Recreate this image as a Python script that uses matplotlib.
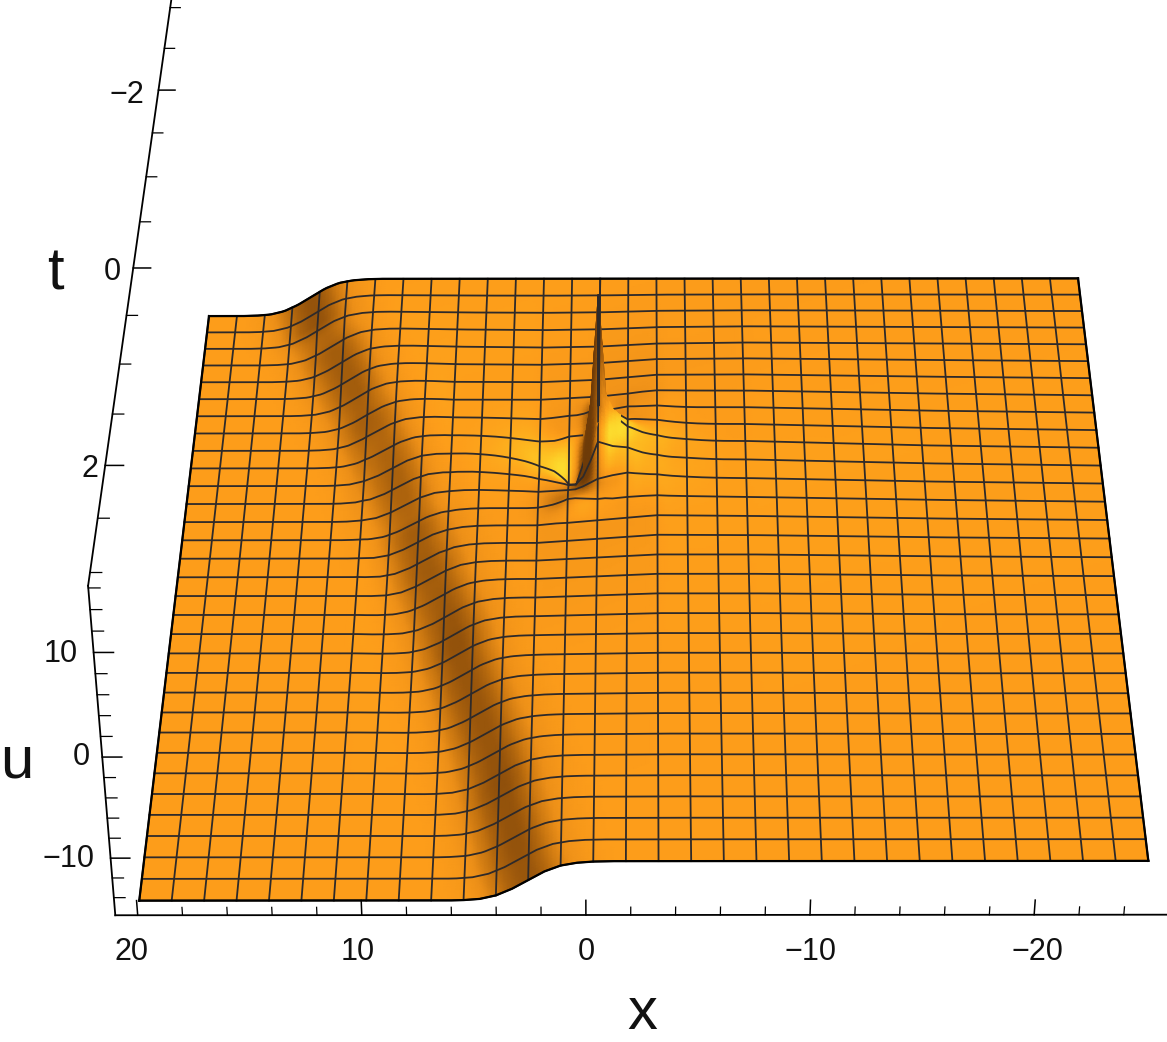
"""
Surface u(x, t): a kink crossing a flat sheet with a sharp lump next to it,
seen from above in perspective.
"""
import numpy as np
import matplotlib
matplotlib.use('Agg')
import matplotlib.pyplot as plt
from matplotlib.colors import LinearSegmentedColormap

plt.rcParams['font.family'] = ['Liberation Sans', 'DejaVu Sans']

# ---------- data ----------
x_range = [20, -25]
t_range = [-3, 3]
n_cells = 31
u_low = -15.7
u_step = 4.0
px_per_u = 9.5

# kink centre per mesh row, in mesh columns
kink_col = [3.7, 3.9, 4.1, 4.6, 4.95, 5.3, 5.65, 6.05, 6.35, 6.7, 7.0, 7.25, 7.5, 7.8, 8.0, 8.25,
            8.5, 8.8, 9.1, 9.35, 9.55, 9.8, 10.05, 10.3, 10.55, 10.8, 11.0, 11.15, 11.35, 11.55, 11.75, 12.0]
# rise across the kink against distance from its centre, in mesh columns
kink_offset = [-2.5, -2, -1.5, -1, -0.5, 0, 0.5, 1, 1.5, 2, 2.5]
kink_rise = [0, 0.01, 0.04, 0.13, 0.3, 0.52, 0.74, 0.89, 0.96, 0.99, 1]

# slow sag and lift either side of the lump, picture px
sheet_cols = [0, 6, 9, 12, 14, 16, 19, 25, 31]
sheet_rows = [0, 4, 7, 10, 13, 16, 20, 31]
sheet_lift = [[0, 0, 0, 0, 0, 0, 0, 0, 0],
              [0, 0, -2, -3, -2, 1, 2, 1, 0],
              [0, 0, -4, -4, -1, 5, 5, 2, 0],
              [0, 0, -5, -7, 0, 7, 7, 2.5, 0],
              [0, 0, -6, -6, 0, 6, 5, 2, 0],
              [0, 0, -3, -3, 0, 3, 3, 1, 0],
              [0, 0, -1, -1, 0, 1, 1, 0, 0],
              [0, 0, 0, 0, 0, 0, 0, 0, 0]]

# the lump itself, picture px
lump_cols = [10, 11, 12, 13, 13.25, 13.5, 13.75, 14, 14.25, 14.5, 15, 16, 17, 18]
lump_rows = [7, 8, 8.5, 9, 9.25, 9.5, 9.75, 10, 10.5, 11, 11.5, 12, 13, 14]
lump_lift = [[0, 0, 0, 0, 0, 0, 0, 0, 0, 0, 0, 0, 0, 0],
             [0, -0.5, -1, 0, 0, 1, 3, 8, 4, 3, 4, 2, 0, 0],
             [0, -1, -3, -1, -1, 0, 3, 20, 8, 5, 5, 2, 0, 0],
             [0, -1.5, -5, -3, -3, -3, 1, 25, 29, 18, 8, 4, 1, 0],
             [0, -2, -7, -9, -8, -5, 21, 78, 30, 23, 11, 5, 1, 0],
             [0, -3, -9, -17, -16, -7, 38, 141, 44, 28, 15, 6, 2, 0],
             [0, -3, -11, -24, -24, -9, 28, 88, 36, 30, 19, 6, 2, 0],
             [0, -3, -11, -33, -34, -13, 16, 45, 34, 31, 18, 5, 2, 0],
             [0, -2.5, -8, -25, -25, -12, 9, 35, 29, 26, 14, 2, 1, 0],
             [0, -2, -5, -16, -16, -9, 6, 24, 21, 18, 15, 4, 2, 0],
             [0, -1, -3, -9, -9, -5, 4, 14, 13, 12, 11, 3, 1, 0],
             [0, -0.5, -1, -3, -3, -1, 2, 5, 6, 7, 8, 3, 1, 0],
             [0, 0, 0, 6, 6, 5, 4, 3, 3, 2, 2, 0, 0, 0],
             [0, 0, 0, 0, 0, 0, 0, 0, 0, 0, 0, 0, 0, 0]]

# right face of the lump's needle stays orange rather than yellow
needle_cols = [13.75, 14, 14.25, 14.5, 14.75]
needle_rows = [8.5, 9, 9.5, 10, 10.5]
needle_dim = [[0, 0, 0, 0, 0],
              [0, 1.1, 1.1, 0.6, 0],
              [0, 1.3, 1.3, 0.8, 0],
              [0, 0.9, 0.9, 0.3, 0],
              [0, 0, 0, 0, 0]]

# axes
x_ticks = [20, 18, 16, 14, 12, 10, 8, 6, 4, 2, 0, -2, -4, -6, -8, -10, -12, -14, -16, -18, -20, -22, -24]
t_ticks = [-3, -2.5, -2, -1.5, -1, -0.5, 0, 0.5, 1, 1.5, 2, 2.5, 3]
u_ticks = [-14, -12, -10, -8, -6, -4, -2, 0, 2, 4, 6, 8, 10, 12, 14, 16]
x_major = [20, 10, 0, -10, -20]
t_major = [-2, 0, 2]
u_major = [-10, 0, 10]
x_box = [21, -26]
t_box = [-3.2, 3.12]
u_box = [-15.8, 16.2]

# camera calibration: (x, t, u) and where that point sits in the picture
calib_xtu = [(21, 3.12, -15.8), (21, 3.12, -10), (21, 3.12, 0), (21, 3.12, 10), (21, 3.12, 16),
             (21, -2, 16), (21, 0, 16), (21, 2, 16),
             (20, 3.12, -15.8), (10, 3.12, -15.8), (0, 3.12, -15.8), (-10, 3.12, -15.8), (-20, 3.12, -15.8),
             (20, -3, -15.7), (-25, -3, -11.7), (-25, 3, -11.7), (20, 3, -15.7)]
calib_px = [(116, 915), (111, 857), (102.4, 756), (93.6, 652), (88.5, 590),
            (159, 92), (133, 270), (105, 467),
            (137, 915), (362, 915), (587, 915), (810, 915), (1034, 915),
            (209, 316.7), (1078, 278), (1148, 861), (138, 902)]

shade_stops = [0, 0.12, 0.25, 0.38, 0.5, 0.7, 0.85, 1]
shade_colors = ['#6e3b08', '#8a4c0a', '#c0700f', '#ec8f18', '#fd9d1a', '#fdb81f', '#fdd028', '#fbe332']


def fit_camera(xtu, px):
    """Least squares 3x4 camera matrix, on scaled coordinates."""
    xtu = np.array(xtu, dtype=float) / [20, 3, 16]
    px = np.array(px, dtype=float) / 1000
    rows = []
    for (a, b, c), (p, q) in zip(xtu, px):
        rows.append([a, b, c, 1, 0, 0, 0, 0, -p * a, -p * b, -p * c, -p])
        rows.append([0, 0, 0, 0, a, b, c, 1, -q * a, -q * b, -q * c, -q])
    _, _, vt = np.linalg.svd(np.array(rows))
    return vt[-1].reshape(3, 4)


camera = fit_camera(calib_xtu, calib_px)


def project(x, t, u):
    x, t, u = np.broadcast_arrays(np.asarray(x, float) / 20, np.asarray(t, float) / 3, np.asarray(u, float) / 16)
    w = camera[2, 0] * x + camera[2, 1] * t + camera[2, 2] * u + camera[2, 3]
    px = camera[0, 0] * x + camera[0, 1] * t + camera[0, 2] * u + camera[0, 3]
    py = camera[1, 0] * x + camera[1, 1] * t + camera[1, 2] * u + camera[1, 3]
    return 1000 * px / w, 1000 * py / w


def table_on_grid(cols, rows, table, col_f, row_f):
    """Look a small table up on the fine grid (rows first axis)."""
    table = np.array(table, dtype=float)
    along = np.array([np.interp(col_f, cols, line) for line in table])
    return np.array([np.interp(row_f, rows, along[:, j]) for j in range(len(col_f))]).T


def box_blur(a, n):
    kernel = np.ones(n) / n
    pad = n // 2
    out = np.pad(a, pad, mode='edge')
    out = np.apply_along_axis(lambda v: np.convolve(v, kernel, mode='same'), 1, out)
    out = np.apply_along_axis(lambda v: np.convolve(v, kernel, mode='same'), 0, out)
    return out[pad:-pad, pad:-pad]


# ---------- surface on a grid finer than the mesh ----------
sub = 8
col_f = np.linspace(0, n_cells, n_cells * sub + 1)
row_f = np.linspace(0, n_cells, n_cells * sub + 1)
cc, rr = np.meshgrid(col_f, row_f)

centre = np.interp(rr, np.arange(n_cells + 1), kink_col)
u = u_low + u_step * np.interp(cc - centre, kink_offset, kink_rise)
u = u + table_on_grid(sheet_cols, sheet_rows, sheet_lift, col_f, row_f) / px_per_u

# round the lump's table corners away from the needle, keep the needle sharp
lift = table_on_grid(lump_cols, lump_rows, lump_lift, col_f, row_f)
soft = np.clip((13 - cc) / 0.5, 0, 1) + np.clip((cc - 15) / 0.5, 0, 1)
lift = lift + soft * (box_blur(lift, 9) - lift)
u = u + lift / px_per_u

xx = x_range[0] + (x_range[1] - x_range[0]) * cc / n_cells
tt = t_range[0] + (t_range[1] - t_range[0]) * rr / n_cells
px, py = project(xx, tt, u)

# light comes from the right and a little from the front
du_dr, du_dc = np.gradient(u, row_f, col_f)
shade = np.clip(-(du_dc * 0.45 + du_dr * 0.25), -1, 1)
shade = shade - table_on_grid(needle_cols, needle_rows, needle_dim, col_f, row_f)
shade = box_blur(shade, 5)

cmap = LinearSegmentedColormap.from_list('kink', list(zip(shade_stops, shade_colors)))

fig = plt.figure(figsize=(11.67, 10.42), dpi=100)
ax = fig.add_axes([0, 0, 1, 1])

ax.pcolormesh(px, py, shade, shading='gouraud', cmap=cmap, vmin=-1, vmax=1, zorder=1)

# ---------- mesh ----------
mesh_color = '#2e2a2a'
mesh_lw = 1.3
for k in range(n_cells + 1):
    i = k * sub
    ax.plot(px[i, :], py[i, :], color=mesh_color, lw=mesh_lw, zorder=2)
    ax.plot(px[:, i], py[:, i], color=mesh_color, lw=mesh_lw, zorder=2)

# front of the lump hides the mesh lines behind it
r0, r1 = int(8.875 * sub), int(10.5 * sub) + 1
c0, c1 = int(13.5 * sub), int(14.75 * sub) + 1
ax.pcolormesh(px[r0:r1, c0:c1], py[r0:r1, c0:c1], shade[r0:r1, c0:c1], shading='gouraud',
              cmap=cmap, vmin=-1, vmax=1, zorder=3)
ax.plot(px[:r1, 14 * sub], py[:r1, 14 * sub], color=mesh_color, lw=mesh_lw, zorder=4)

# outline of the sheet
ax.plot(px[0, :], py[0, :], color='black', lw=1.6, zorder=5)
ax.plot(px[-1, :], py[-1, :], color='black', lw=1.6, zorder=5)
ax.plot(px[:, 0], py[:, 0], color='black', lw=1.6, zorder=5)
ax.plot(px[:, -1], py[:, -1], color='black', lw=1.6, zorder=5)

# ---------- box edges and ticks ----------
bx, bt, bu = x_box[0], t_box[1], u_box[0]
for a, b in [((bx, bt, bu), (x_box[1], bt, bu)),
             ((bx, bt, bu), (bx, bt, u_box[1])),
             ((bx, bt, u_box[1]), (bx, t_box[0], u_box[1]))]:
    p, q = project(*a), project(*b)
    ax.plot([p[0], q[0]], [p[1], q[1]], color='black', lw=1.3, zorder=6)

for v in x_ticks:
    big = v in x_major
    p, q = project(v, bt, bu), project(v, bt, bu + (1.5 if big else 0.8))
    ax.plot([p[0], q[0]], [p[1], q[1]], color='black', lw=1.1 if big else 0.9, zorder=6)
for v in u_ticks:
    big = v in u_major
    p, q = project(bx, bt, v), project(bx - (0.85 if big else 0.5), bt, v)
    ax.plot([p[0], q[0]], [p[1], q[1]], color='black', lw=1.1 if big else 0.9, zorder=6)
for v in t_ticks:
    big = v in t_major
    p, q = project(bx, v, u_box[1]), project(bx - (0.8 if big else 0.5), v, u_box[1])
    ax.plot([p[0], q[0]], [p[1], q[1]], color='black', lw=1.1 if big else 0.9, zorder=6)

# ---------- labels ----------
tick_style = dict(fontsize=22, ha='center', va='center', color='#111111', zorder=7)
for v, (lx, ly) in zip(x_major, [(132, 952), (358, 952), (586, 952), (810, 952), (1037, 952)]):
    ax.text(lx, ly, str(v).replace('-', '\u2212'), **tick_style)
for v, (lx, ly) in zip(t_major, [(127, 95), (112, 272), (90, 469)]):
    ax.text(lx, ly, str(v).replace('-', '\u2212'), **tick_style)
for v, (lx, ly) in zip(u_major, [(68, 859), (81, 757), (61, 654)]):
    ax.text(lx, ly, str(v).replace('-', '\u2212'), **tick_style)

label_style = dict(fontsize=43, ha='center', va='baseline', color='#111111', zorder=7)
ax.text(642, 1029, 'x', **label_style)
ax.text(55, 290, 't', **label_style)
ax.text(17, 777, 'u', **label_style)

ax.set_xlim(0, 1167)
ax.set_ylim(1042, 0)
ax.axis('off')

fig.savefig('out.png', dpi=100)
